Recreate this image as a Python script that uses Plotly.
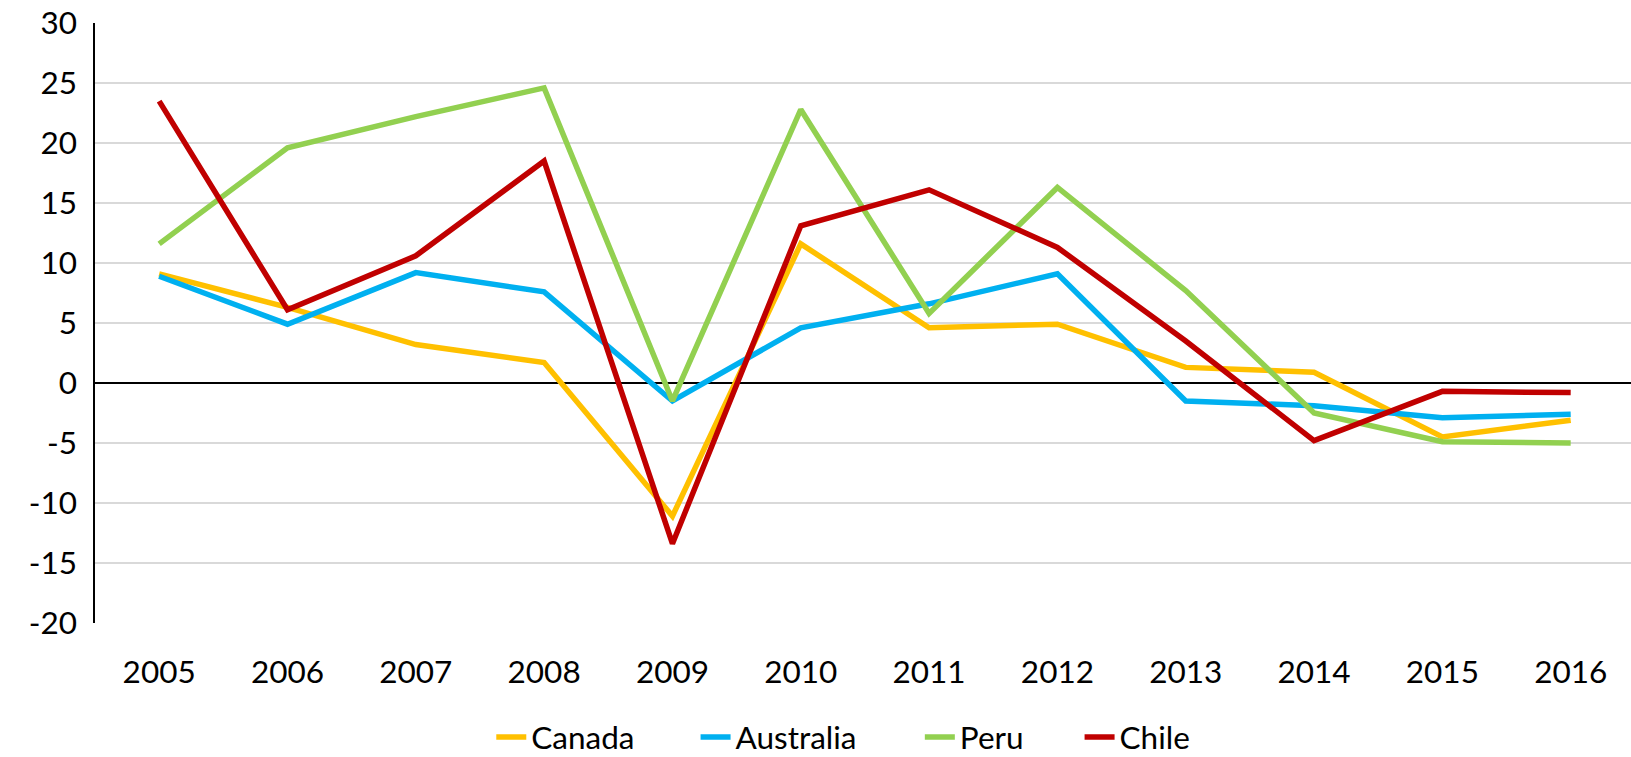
import plotly.graph_objects as go

years = ["2005", "2006", "2007", "2008", "2009", "2010", "2011", "2012", "2013", "2014", "2015", "2016"]
canada = [9.1, 6.3, 3.2, 1.7, -11.1, 11.6, 4.6, 4.9, 1.3, 0.9, -4.5, -3.1]
australia = [8.9, 4.9, 9.2, 7.6, -1.5, 4.6, 6.6, 9.1, -1.5, -1.9, -2.9, -2.6]
peru = [11.6, 19.6, 22.2, 24.6, -1.5, 22.8, 5.8, 16.3, 7.7, -2.5, -4.9, -5.0]
chile = [23.5, 6.1, 10.6, 18.5, -13.4, 13.1, 16.1, 11.3, 3.5, -4.8, -0.7, -0.8]
y_ticks = [-20, -15, -10, -5, 0, 5, 10, 15, 20, 25, 30]
y_tick_labels = ["-20", "-15", "-10", "-5", "0", "5", "10", "15", "20", "25", "30"]

series = [
    ("Canada", canada, "#FFC000", "legend", 0.258),
    ("Australia", australia, "#00B0F0", "legend2", 0.391),
    ("Peru", peru, "#92D050", "legend3", 0.537),
    ("Chile", chile, "#C00000", "legend4", 0.641),
]

FONT = "Lato"
FS = 31.5

fig = go.Figure()
legends = {}
for name, vals, color, leg, lx in series:
    fig.add_trace(go.Scatter(
        x=years, y=vals, name=name, mode="lines",
        line=dict(color=color, width=5.5), legend=leg,
    ))
    legends[leg] = dict(
        orientation="h", x=lx, xanchor="left", y=-0.19, yanchor="middle",
        font=dict(family=FONT, size=FS, color="black"),
        itemwidth=30, bgcolor="rgba(0,0,0,0)",
    )

fig.update_layout(
    width=1631, height=757,
    margin=dict(l=95, r=0, t=23, b=133.5, autoexpand=False),
    paper_bgcolor="white", plot_bgcolor="white",
    font=dict(family=FONT, size=FS, color="black"),
    showlegend=True,
    **legends,
)
fig.update_xaxes(
    type="category", range=[-0.5, 11.47], automargin=False,
    showgrid=False, showline=False, zeroline=False,
    ticks="", ticklabelstandoff=27,
    tickfont=dict(family=FONT, size=FS, color="black"),
)
fig.update_yaxes(
    range=[-20.01, 30.01], tickvals=y_ticks, ticktext=y_tick_labels, automargin=False,
    showgrid=True, gridcolor="#D9D9D9", gridwidth=1.5,
    zeroline=True, zerolinecolor="black", zerolinewidth=1.5,
    showline=True, linecolor="black", linewidth=1.5,
    ticks="", ticklabelstandoff=10, ticklabeloverflow="allow",
    tickfont=dict(family=FONT, size=FS, color="black"),
)

# remove the default 8px page margin so the figure fills the window exactly
fig.write_html(
    "out.html",
    config={"displayModeBar": False},
    post_script="document.body.style.margin='0';document.body.style.overflow='hidden';",
)
